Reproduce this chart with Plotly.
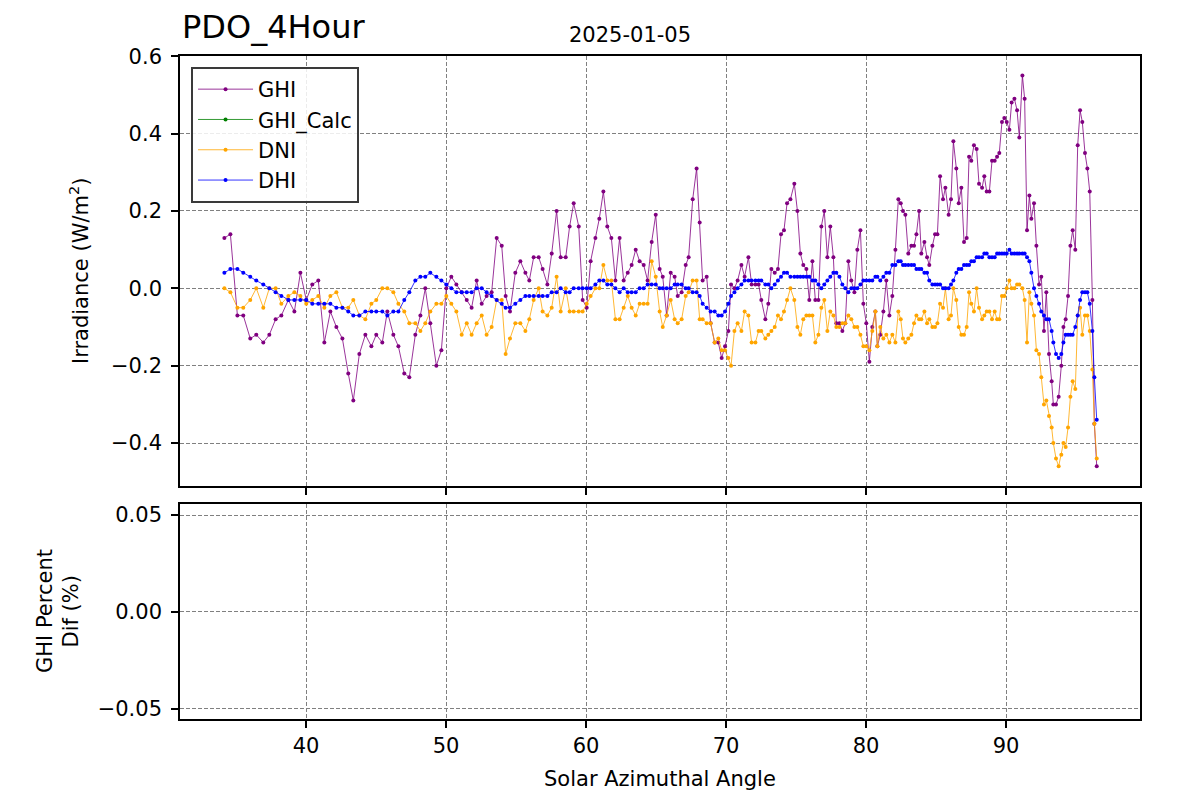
import plotly.graph_objects as go

# ---------------- data ----------------
azimuth = [
    34.17, 34.6, 35.1, 35.52, 36.02, 36.45, 36.95, 37.38, 37.83, 38.24, 38.74, 39.17, 39.6, 40.02,
    40.45, 40.88, 41.31, 41.74, 42.17, 42.6, 43.02, 43.38, 43.81, 44.24, 44.67, 45.02, 45.45, 45.81,
    46.24, 46.6, 47.02, 47.38, 47.81, 48.17, 48.52, 48.88, 49.31, 49.67, 50.02, 50.38, 50.74,
    51.12, 51.48, 51.83, 52.19, 52.55, 52.9, 53.26, 53.62, 53.98, 54.26, 54.57, 54.95, 55.31, 55.67,
    55.95, 56.26, 56.62, 56.9, 57.24, 57.55, 57.9, 58.19, 58.55, 58.83, 59.12, 59.48, 59.76, 60.05,
    60.33, 60.67, 60.95, 61.24, 61.52, 61.81, 62.1, 62.4, 62.69, 62.98, 63.26, 63.55, 63.83, 64.12,
    64.4, 64.69, 64.98, 65.26, 65.48, 65.76, 66.05, 66.33, 66.55, 66.83, 67.12, 67.33, 67.62, 67.9,
    68.12,
    68.33, 68.62, 68.9, 69.19, 69.45, 69.69, 69.93, 70.17, 70.36, 70.6, 70.83, 71.1, 71.33, 71.6,
    71.83, 72.1, 72.33, 72.52, 72.81, 73.02, 73.24, 73.48, 73.71, 73.93, 74.14, 74.36, 74.6, 74.88,
    75.1, 75.31, 75.52, 75.74, 75.95, 76.17, 76.38, 76.6, 76.81, 77.02, 77.24, 77.45, 77.67, 77.88,
    78.1, 78.31, 78.52, 78.74, 78.95, 79.17, 79.38, 79.6, 79.81, 80.02, 80.24, 80.45, 80.67, 80.81,
    81.02, 81.24, 81.45, 81.67, 81.88, 82.1, 82.31,
    82.48, 82.64, 82.81, 83.02, 83.24, 83.43, 83.6, 83.79, 83.95, 84.17, 84.36, 84.52, 84.74, 84.93,
    85.1, 85.29, 85.5, 85.67, 85.9, 86.07, 86.24, 86.45, 86.62, 86.81, 87.0, 87.19, 87.36, 87.52,
    87.71, 87.9, 88.07, 88.29, 88.45, 88.62, 88.81, 89.0, 89.19, 89.36, 89.52, 89.71, 89.88, 90.05,
    90.24, 90.4, 90.6, 90.79, 90.95, 91.17, 91.33, 91.5, 91.67, 91.81, 92.0, 92.17, 92.36, 92.52,
    92.71, 92.88, 93.07, 93.26, 93.38, 93.57, 93.76, 93.95, 94.1, 94.26, 94.43, 94.6, 94.76, 94.95,
    95.12, 95.29, 95.45, 95.64, 95.81, 95.98, 96.17, 96.31, 96.48,
]

ghi = [
    0.13, 0.14, -0.07, -0.07, -0.13, -0.12, -0.14, -0.12, -0.08, -0.07, -0.03, -0.06, 0.04, -0.03,
    0.01, 0.02, -0.14, -0.06, -0.10, -0.13, -0.22, -0.29, -0.17, -0.12, -0.15, -0.12, -0.14, -0.06,
    -0.12, -0.15, -0.22, -0.23, -0.12, -0.07, 0.0, -0.09, -0.20, -0.16, 0.0, 0.03, 0.01,
    -0.01, -0.03, -0.05, 0.02, -0.04, -0.02, -0.01, 0.13, 0.11, -0.02, -0.06, 0.04, 0.07, 0.04,
    0.02, 0.08, 0.08, 0.05, 0.01, 0.09, 0.20, 0.08, 0.08, 0.16, 0.22, 0.16, -0.03, -0.05,
    0.07, 0.13, 0.18, 0.25, 0.16, 0.13, 0.02, 0.13, 0.02, 0.04, 0.06, 0.10, 0.07, 0.06,
    0.02, 0.12, 0.19, 0.05, 0.03, -0.07, 0.04, 0.03, -0.02, -0.01, 0.06, 0.08, 0.23, 0.31,
    0.17,
    0.02, 0.03, -0.09, -0.14, -0.14, -0.18, -0.15, -0.11, 0.01, 0.0, 0.02, 0.06, 0.03, 0.08,
    0.01, 0.01, 0.01, -0.03, -0.08, -0.04, 0.05, 0.04, 0.05, 0.14, 0.15, 0.22, 0.23, 0.27,
    0.20, 0.09, 0.06, 0.05, -0.03, 0.07, -0.03, -0.03, 0.16, 0.20, 0.08, 0.16, 0.08, -0.09,
    -0.09, -0.11, -0.09, 0.07, 0.02, -0.01, 0.10, 0.15, -0.04, -0.09, -0.19, -0.10, -0.06, -0.15,
    -0.12, -0.06, 0.02, -0.07, -0.02, 0.10, 0.23,
    0.22, 0.20, 0.19, 0.09, 0.11, 0.11, 0.14, 0.20, 0.09, 0.12, 0.08, 0.06, 0.11, 0.14,
    0.14, 0.29, 0.23, 0.26, 0.19, 0.23, 0.38, 0.31, 0.22, 0.26, 0.12, 0.13, 0.34, 0.33,
    0.37, 0.36, 0.27, 0.26, 0.29, 0.25, 0.25, 0.33, 0.33, 0.34, 0.35, 0.43, 0.44, 0.43,
    0.41, 0.48, 0.49, 0.46, 0.39, 0.55, 0.49, 0.15, 0.24, 0.18, 0.22, 0.11, 0.01, 0.03,
    -0.11, -0.01, -0.17, -0.24, -0.30, -0.30, -0.28, -0.20, -0.10, -0.08, -0.02, 0.11, 0.15, 0.10,
    0.37, 0.46, 0.43, 0.35, 0.31, 0.25, -0.03, -0.35, -0.46,
]

dni = [
    0.0, -0.01, -0.05, -0.05, -0.03, 0.0, -0.05, 0.0, 0.0, -0.04, -0.02, -0.01, -0.02, -0.04,
    -0.03, -0.02, -0.05, -0.02, -0.01, -0.05, -0.05, -0.03, -0.07, -0.08, -0.04, -0.03, 0.0, 0.0,
    -0.01, -0.04, -0.06, -0.09, -0.09, -0.11, -0.09, -0.06, -0.04, -0.04, -0.02, -0.04, -0.06,
    -0.12, -0.09, -0.12, -0.09, -0.07, -0.12, -0.10, -0.03, -0.03, -0.17, -0.13, -0.09, -0.09, -0.11,
    -0.08, -0.03, 0.0, -0.06, -0.07, -0.05, 0.03, -0.06, 0.0, -0.06, -0.06, -0.06, -0.06, -0.04,
    -0.02, 0.0, 0.0, 0.06, 0.02, 0.02, -0.08, -0.08, -0.05, -0.02, -0.05, -0.07, -0.04, -0.04,
    -0.04, 0.07, 0.03, -0.06, -0.10, -0.07, -0.03, -0.08, -0.09, -0.08, -0.02, -0.01, 0.02, 0.02,
    -0.08,
    -0.08, -0.09, -0.09, -0.14, -0.13, -0.16, -0.16, -0.18, -0.20, -0.11, -0.09, -0.11, -0.06, -0.07,
    -0.14, -0.14, -0.11, -0.11, -0.13, -0.12, -0.11, -0.10, -0.07, -0.08, -0.06, -0.03, 0.0, -0.03,
    -0.10, -0.12, -0.08, -0.07, -0.07, -0.07, -0.14, -0.12, -0.05, -0.03, -0.11, -0.06, -0.07, -0.10,
    -0.10, -0.09, -0.09, -0.07, -0.08, -0.10, -0.10, -0.12, -0.15, -0.15, -0.16, -0.11, -0.06, -0.15,
    -0.10, -0.13, -0.12, -0.14, -0.12, -0.14, -0.06,
    -0.08, -0.13, -0.14, -0.13, -0.12, -0.09, -0.07, -0.08, -0.08, -0.06, -0.09, -0.08, -0.10, -0.10,
    -0.09, -0.04, -0.05, 0.0, -0.08, -0.07, 0.0, -0.03, -0.10, -0.12, -0.12, -0.10, -0.01, -0.04,
    -0.06, 0.0, -0.05, -0.08, -0.07, -0.06, -0.06, -0.08, -0.06, -0.08, -0.08, -0.02, -0.02, 0.0,
    0.02, 0.0, 0.0, 0.01, 0.01, 0.0, -0.03, -0.14, -0.01, -0.04, -0.07, -0.16, -0.17, -0.23,
    -0.30, -0.29, -0.33, -0.36, -0.40, -0.44, -0.46, -0.43, -0.40, -0.41, -0.36, -0.28, -0.24, -0.26,
    -0.07, -0.05, -0.12, -0.07, -0.07, -0.11, -0.21, -0.35, -0.44,
]

dhi = [
    0.04, 0.05, 0.05, 0.04, 0.03, 0.02, 0.01, 0.0, -0.01, -0.02, -0.03, -0.03, -0.03, -0.03,
    -0.04, -0.04, -0.04, -0.04, -0.05, -0.05, -0.06, -0.07, -0.07, -0.06, -0.06, -0.06, -0.06, -0.07,
    -0.06, -0.06, -0.03, -0.01, 0.02, 0.03, 0.03, 0.04, 0.03, 0.02, 0.01, 0.0, -0.01,
    -0.01, -0.01, -0.01, 0.0, 0.0, -0.01, -0.02, -0.03, -0.04, -0.05, -0.05, -0.04, -0.03, -0.02,
    -0.02, -0.02, -0.02, -0.02, -0.02, -0.01, -0.01, 0.0, -0.01, -0.01, 0.0, 0.0, 0.0, 0.0,
    0.0, 0.01, 0.02, 0.02, 0.01, 0.01, 0.0, -0.01, 0.0, -0.01, -0.01, -0.01, 0.0, 0.0,
    0.01, 0.01, 0.01, 0.0, 0.0, 0.0, 0.0, 0.01, 0.01, 0.01, 0.0, 0.0, -0.01, -0.01,
    -0.02,
    -0.04, -0.05, -0.06, -0.06, -0.07, -0.07, -0.06, -0.04, -0.02, -0.01, 0.0, 0.01, 0.02, 0.02,
    0.02, 0.02, 0.02, 0.02, 0.01, 0.01, 0.0, 0.01, 0.02, 0.03, 0.04, 0.04, 0.03, 0.03,
    0.03, 0.03, 0.03, 0.03, 0.03, 0.02, 0.02, 0.01, 0.0, 0.01, 0.02, 0.03, 0.04, 0.04,
    0.03, 0.01, 0.0, -0.01, 0.0, 0.0, 0.0, 0.01, 0.02, 0.02, 0.02, 0.02, 0.03, 0.03,
    0.02, 0.03, 0.04, 0.04, 0.06, 0.06, 0.07,
    0.07, 0.06, 0.06, 0.06, 0.06, 0.06, 0.05, 0.05, 0.05, 0.04, 0.04, 0.02, 0.01, 0.01,
    0.01, 0.01, 0.0, 0.0, 0.0, 0.01, 0.02, 0.04, 0.05, 0.05, 0.06, 0.06, 0.06, 0.07,
    0.07, 0.08, 0.08, 0.08, 0.09, 0.09, 0.08, 0.08, 0.08, 0.09, 0.09, 0.09, 0.09, 0.09,
    0.10, 0.09, 0.09, 0.09, 0.09, 0.09, 0.09, 0.08, 0.07, 0.04, 0.0, -0.02, -0.04, -0.06,
    -0.07, -0.08, -0.08, -0.11, -0.14, -0.17, -0.18, -0.17, -0.14, -0.12, -0.12, -0.12, -0.12, -0.10,
    -0.07, -0.03, -0.01, -0.01, -0.01, -0.04, -0.11, -0.23, -0.34,
]

# GHI_Calc and the GHI percent difference have no valid values on this day
ghi_calc = [None] * len(azimuth)
ghi_pct_dif = [None] * len(azimuth)

series_names = ["GHI", "GHI_Calc", "DNI", "DHI"]
series_colors = ["purple", "green", "orange", "blue"]

x_ticks = [40, 50, 60, 70, 80, 90]
y1_ticks = [-0.4, -0.2, 0.0, 0.2, 0.4, 0.6]
y2_ticks = [-0.05, 0.0, 0.05]

title_text = "PDO_4Hour"
date_text = "2025-01-05"

# ---------------- figure ----------------
FONT = "DejaVu Sans"
fig = go.Figure()

n = min(len(azimuth), len(ghi), len(dni), len(dhi))
for name, vals, color in zip(series_names, [ghi, ghi_calc, dni, dhi], series_colors):
    fig.add_trace(go.Scatter(
        x=azimuth[:n], y=vals[:n], name=name, mode="lines+markers",
        line=dict(color=color, width=0.8),
        marker=dict(color=color, size=4),
        xaxis="x", yaxis="y",
    ))

fig.add_trace(go.Scatter(
    x=azimuth[:n], y=ghi_pct_dif[:n], mode="lines+markers", showlegend=False,
    line=dict(color="purple", width=0.8), marker=dict(size=4),
    xaxis="x2", yaxis="y2",
))

axis_common = dict(
    showline=True, linecolor="black", linewidth=1.6, mirror=True,
    ticks="outside", ticklen=7, tickwidth=1.6, tickcolor="black",
    showgrid=True, gridcolor="#808080", gridwidth=1, griddash="4px,2px",
    zeroline=False,
    tickfont=dict(family=FONT, size=21, color="black"),
)

xr = [31.0, 99.57]
fig.update_layout(
    width=1200, height=800, autosize=False,
    margin=dict(l=180, r=60, t=56, b=81),
    paper_bgcolor="white", plot_bgcolor="white",
    font=dict(family=FONT, size=21, color="black"),
    showlegend=True,
    xaxis=dict(axis_common, domain=[0, 1], anchor="y", range=xr,
               tickvals=x_ticks, showticklabels=False),
    xaxis2=dict(axis_common, domain=[0, 1], anchor="y2", range=xr, matches="x",
                tickvals=x_ticks, ticklabelstandoff=0),
    yaxis=dict(axis_common, domain=[0.3514, 1.0], anchor="x", range=[-0.511, 0.6005],
               tickvals=y1_ticks, tickformat=".1f", ticklabelstandoff=5),
    yaxis2=dict(axis_common, domain=[0.0, 0.3243], anchor="x2", range=[-0.0552, 0.0557],
                tickvals=y2_ticks, tickformat=".2f", ticklabelstandoff=5),
    legend=dict(
        x=0.0115, y=0.9834, xanchor="left", yanchor="top",
        bgcolor="rgba(255,255,255,0.85)", bordercolor="#3a3a3a", borderwidth=2,
        font=dict(family=FONT, size=21, color="black"),
        itemwidth=55,
    ),
)

annotations = [
    dict(text=title_text, xref="paper", yref="paper", x=0.0, y=1.0,
         xanchor="left", yanchor="bottom", yshift=8, showarrow=False,
         font=dict(family=FONT, size=32, color="black")),
    dict(text=date_text, xref="paper", yref="paper", x=(630 - 180) / 960, y=1.0,
         xanchor="center", yanchor="bottom", yshift=7, showarrow=False,
         font=dict(family=FONT, size=21, color="black")),
    dict(text="Irradiance (W/m<sup>2</sup>)", xref="paper", yref="paper",
         x=(79 - 180) / 960, y=(0.3514 + 1.0) / 2, xanchor="center", yanchor="middle",
         textangle=-90, showarrow=False, font=dict(family=FONT, size=21, color="black")),
    dict(text="GHI Percent", xref="paper", yref="paper",
         x=(45.5 - 180) / 960, y=0.3243 / 2, xanchor="center", yanchor="middle",
         textangle=-90, showarrow=False, font=dict(family=FONT, size=21, color="black")),
    dict(text="Dif (%)", xref="paper", yref="paper",
         x=(71 - 180) / 960, y=0.3243 / 2, xanchor="center", yanchor="middle",
         textangle=-90, showarrow=False, font=dict(family=FONT, size=21, color="black")),
    dict(text="Solar Azimuthal Angle", xref="paper", yref="paper", x=0.5, y=0.0,
         xanchor="center", yanchor="top", yshift=-46, showarrow=False,
         font=dict(family=FONT, size=21, color="black")),
]
fig.update_layout(annotations=annotations)

fig.write_html("out.html", config={"displayModeBar": False},
               post_script="document.body.style.margin='0';")
